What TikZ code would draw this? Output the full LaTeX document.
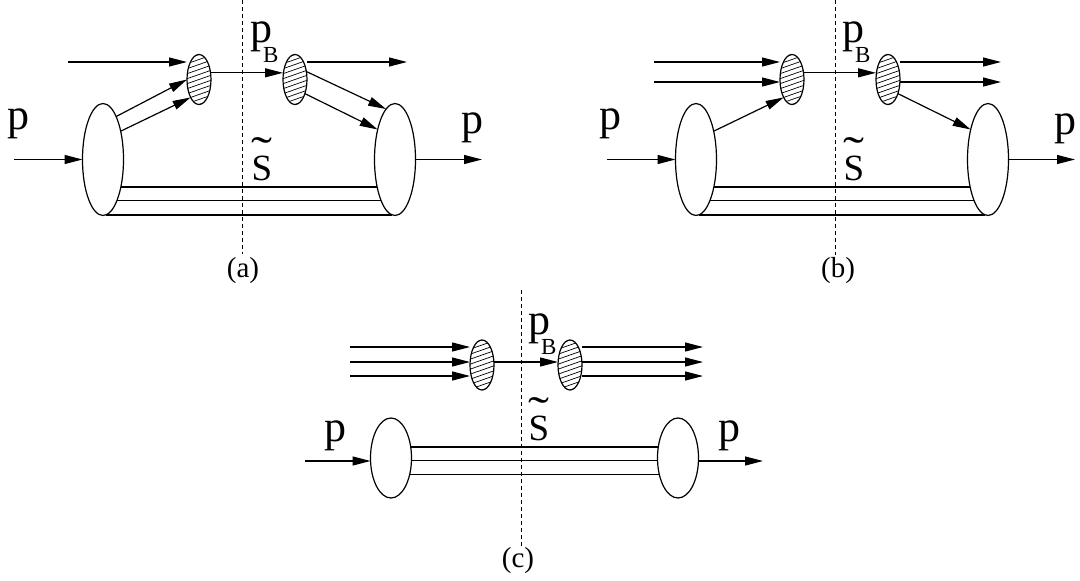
\documentclass[tikz,border=0pt]{standalone}
\usepackage{fontspec}
\usepackage{graphicx}
\setmainfont{Liberation Serif}
\usetikzlibrary{arrows.meta,shapes.geometric,calc}
\newcommand{\tildeS}{\ooalign{S\cr\hidewidth\raisebox{13pt}{\scalebox{1.7}[1.2]{\char"02DC}}\hidewidth\cr}}
\newcommand{\pBlab}{p\kern-9pt\raisebox{-20pt}{\fontsize{23}{27}\selectfont B}}
\begin{document}
\begin{tikzpicture}[x=1pt,y=-1pt,
  ln/.style={line width=1.2pt},
  arr/.style={line width=1.2pt,-{Triangle[length=18pt,width=9pt]}},
  big/.style={ellipse,draw,line width=1.2pt,minimum width=41pt,minimum height=112pt,inner sep=0pt,outer sep=0pt},
  bigc/.style={big,minimum height=80pt},
  blob/.style={ellipse,draw,line width=1.2pt,minimum width=24pt,minimum height=50pt,inner sep=0pt,outer sep=0pt,
    path picture={\foreach \k in {-45,-40,...,45}{\draw[line width=0.7pt] ($(path picture bounding box.center)+(-20,\k+7)$) -- ++(40,-14);}}},
  cut/.style={line width=0.9pt,dash pattern=on 4pt off 3pt},
  lab/.style={font=\fontsize{44}{50}\selectfont,inner sep=0pt,anchor=base west},
  labS/.style={font=\fontsize{37}{42}\selectfont,inner sep=0pt,anchor=base},
  panellab/.style={font=\fontsize{29}{33}\selectfont,inner sep=0pt,anchor=base}
]
\useasboundingbox (0,0) rectangle (1080,581);

% ---------------- (a) ----------------
\coordinate (aT) at (242,0);
\coordinate (aBot) at (242,254);
\draw[cut] (aT) -- (aBot);
\node[big] (aL) at (103,159.5) {};
\node[big] (aR) at (395,159.5) {};
\node[blob] (aSL) at (199,79.5) {};
\node[blob] (aSR) at (295,79.5) {};
\coordinate (aIn) at (68,62);
\coordinate (aOut) at (407,62);
\coordinate (apIn) at (14,159.5);
\coordinate (apOut) at (482,159.5);
\draw[arr] (aIn) -- (aIn -| aSL.west);
\draw[arr] (aSL.30) -- (aSL.30 -| aSR.west);
\draw[arr] (aSR.east |- aOut) -- (aOut);
\draw[arr] (aL.73) -- (aSL.west);
\draw[arr] (aL.58) -- (aSL.245);
\draw[arr] (aSR.35) -- (aR.100);
\draw[arr] (aSR.305) -- (aR.120);
\draw[arr] (apIn) -- (aL.west);
\draw[arr] (aR.east) -- (apOut);
\draw[ln] (aL.-57) -- (aL.-57 -| aR.-123);
\draw[ln] (aL.-71.6) -- (aL.-71.6 -| aR.-108.4);
\draw[ln] (aL.-87) -- (aL.-87 -| aR.-93);
\node[lab] (apinL) at (7,129) {p};
\node[lab] (apoutL) at (461,133) {p};
\node[lab] (apB) at (250,42) {\pBlab};
\node[labS] (aS) at (262,180) {\tildeS};
\node[panellab] (acap) at (243,277) {(a)};

% ---------------- (b) ----------------
\coordinate (bT) at (835,0);
\coordinate (bBot) at (835,255);
\draw[cut] (bT) -- (bBot);
\node[big] (bL) at (696,159.5) {};
\node[big] (bR) at (988,159.5) {};
\node[blob] (bSL) at (792,79.5) {};
\node[blob] (bSR) at (888,79.5) {};
\coordinate (bIn1) at (654,62);
\coordinate (bIn2) at (654,82);
\coordinate (bOut1) at (1001,62);
\coordinate (bOut2) at (1001,82);
\coordinate (bpIn) at (607,159.5);
\coordinate (bpOut) at (1075,159.5);
\draw[arr] (bIn1) -- (bIn1 -| bSL.west);
\draw[arr] (bIn2) -- (bIn2 -| bSL.west);
\draw[arr] (bSL.30) -- (bSL.30 -| bSR.west);
\draw[arr] (bSR.east |- bOut1) -- (bOut1);
\draw[arr] (bSR.east |- bOut2) -- (bOut2);
\draw[arr] (bL.58) -- (bSL.245);
\draw[arr] (bSR.305) -- (bR.120);
\draw[arr] (bpIn) -- (bL.west);
\draw[arr] (bR.east) -- (bpOut);
\draw[ln] (bL.-57) -- (bL.-57 -| bR.-123);
\draw[ln] (bL.-71.6) -- (bL.-71.6 -| bR.-108.4);
\draw[ln] (bL.-87) -- (bL.-87 -| bR.-93);
\node[lab] (bpinL) at (599,129) {p};
\node[lab] (bpoutL) at (1054,134) {p};
\node[lab] (bpB) at (842,42) {\pBlab};
\node[labS] (bS) at (854,180) {\tildeS};
\node[panellab] (bcap) at (838,277) {(b)};

% ---------------- (c) ----------------
\coordinate (cT) at (521,290);
\coordinate (cBot) at (521,547);
\draw[cut] (cT) -- (cBot);
\node[bigc] (cL) at (391,458) {};
\node[bigc] (cR) at (678,458) {};
\node[blob] (cSL) at (482,365) {};
\node[blob] (cSR) at (570,365) {};
\coordinate (cIn1) at (350,347);
\coordinate (cIn2) at (350,362);
\coordinate (cIn3) at (350,376);
\coordinate (cOut1) at (703,347);
\coordinate (cOut2) at (703,362);
\coordinate (cOut3) at (703,376);
\coordinate (cpIn) at (305,461);
\coordinate (cpOut) at (763,461);
\draw[arr] (cIn1) -- (cIn1 -| cSL.west);
\draw[arr] (cIn2) -- (cIn2 -| cSL.west);
\draw[arr] (cIn3) -- (cIn3 -| cSL.west);
\draw[arr] ($(cSL.east)+(0,-3)$) -- ($(cSR.west)+(0,-3)$);
\draw[arr] (cSR.east |- cOut1) -- (cOut1);
\draw[arr] (cSR.east |- cOut2) -- (cOut2);
\draw[arr] (cSR.east |- cOut3) -- (cOut3);
\draw[arr] (cpIn) -- (cpIn -| cL.west);
\draw[arr] (cR.east |- cpOut) -- (cpOut);
\draw[ln] (cL.29.2) -- (cL.29.2 -| cR.150.8);
\draw[ln] (cL.-8.4) -- (cL.-8.4 -| cR.188.4);
\draw[ln] (cL.-42.4) -- (cL.-42.4 -| cR.222.4);
\node[lab] (cpinL) at (324,441) {p};
\node[lab] (cpoutL) at (718,441) {p};
\node[lab] (cpB) at (528,334) {\pBlab};
\node[labS] (cS) at (539,440) {\tildeS};
\node[panellab] (ccap) at (518,567) {(c)};
\end{tikzpicture}
\end{document}
